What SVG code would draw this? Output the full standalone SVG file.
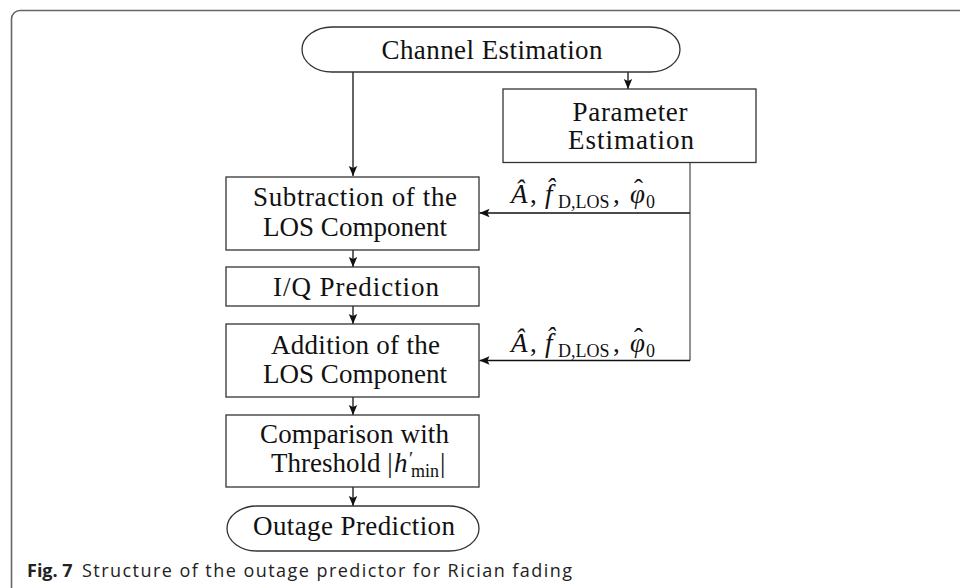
<svg xmlns="http://www.w3.org/2000/svg" width="960" height="588" viewBox="0 0 960 588">
  <defs>
    <marker id="arrow" viewBox="0 0 10 10" refX="10" refY="5" markerWidth="10" markerHeight="10" markerUnits="userSpaceOnUse" orient="auto">
      <path d="M0,0.8 L10,5 L0,9.2 L2,5 Z" fill="#111"/>
    </marker>
    <style>
      .box { fill: #fff; stroke: #333; stroke-width: 1.3; }
      .lbl { font-family: "Liberation Serif", "Times New Roman", serif; font-size: 27px; fill: #111; text-anchor: middle; }
      .math { font-family: "Liberation Serif", "Times New Roman", serif; font-size: 27px; fill: #111; }
      .it { font-style: italic; }
      .sub { font-size: 18px; }
      .edge { fill: none; stroke: #111; stroke-width: 1.3; marker-end: url(#arrow); }
      .feed { fill: none; stroke: #777; stroke-width: 1.6; }
      .cap { font-family: "Open Sans", "Noto Sans", sans-serif; font-size: 18px; fill: #222; }
    </style>
  </defs>

  <!-- figure frame -->
  <path d="M11.5,588 V19 A8.5,8.5 0 0 1 20,10.5 H960" fill="none" stroke="#666" stroke-width="1.6"/>

  <!-- connectors -->
  <g id="connectors">
    <path class="edge" d="M353,72 V176"/>
    <path class="edge" d="M628,72 V89"/>
    <path class="feed" d="M690,163 V360.5"/>
    <path class="edge" d="M690,213 H479.5"/>
    <path class="edge" d="M690,360.5 H479.5"/>
    <path class="edge" d="M353,250 V267"/>
    <path class="edge" d="M353,306 V324"/>
    <path class="edge" d="M353,397 V415"/>
    <path class="edge" d="M353,487 V506"/>
  </g>

  <g id="channel-estimation">
    <rect class="box" x="302" y="27" width="378" height="45" rx="30" ry="22.5"/>
    <text class="lbl" x="492" y="59" textLength="221" lengthAdjust="spacing">Channel Estimation</text>
  </g>

  <g id="parameter-estimation">
    <rect class="box" x="503" y="89" width="253" height="73.5"/>
    <text class="lbl" x="630" y="121" textLength="115" lengthAdjust="spacing">Parameter</text>
    <text class="lbl" x="631" y="149" textLength="126" lengthAdjust="spacing">Estimation</text>
  </g>

  <g id="subtraction">
    <rect class="box" x="226" y="177" width="253" height="73"/>
    <text class="lbl" x="355" y="206" textLength="204" lengthAdjust="spacing">Subtraction of the</text>
    <text class="lbl" x="355" y="236" textLength="184" lengthAdjust="spacing">LOS Component</text>
  </g>

  <g id="iq-prediction">
    <rect class="box" x="226" y="267" width="253" height="39"/>
    <text class="lbl" x="356" y="296" textLength="166" lengthAdjust="spacing">I/Q Prediction</text>
  </g>

  <g id="addition">
    <rect class="box" x="226" y="324" width="253" height="73"/>
    <text class="lbl" x="355.5" y="354" textLength="169" lengthAdjust="spacing">Addition of the</text>
    <text class="lbl" x="355" y="383" textLength="184" lengthAdjust="spacing">LOS Component</text>
  </g>

  <g id="comparison">
    <rect class="box" x="226" y="415" width="253" height="72"/>
    <text class="lbl" x="354.5" y="443" textLength="189" lengthAdjust="spacing">Comparison with</text>
    <text class="lbl" y="472" style="text-anchor:start"><tspan x="271">Threshold |</tspan><tspan class="it" x="394">h</tspan><tspan x="409" y="465" font-size="19">′</tspan><tspan class="sub" x="411" y="477">min</tspan><tspan x="440" y="472">|</tspan></text>
  </g>

  <g id="outage-prediction">
    <rect class="box" x="227" y="506" width="252" height="45" rx="30" ry="22.5"/>
    <text class="lbl" x="354" y="535" textLength="202" lengthAdjust="spacing">Outage Prediction</text>
  </g>

  <!-- estimated LOS parameters fed to both branches -->
  <g id="label-subtraction">
    <text class="math" y="203"><tspan class="it" x="511">Â</tspan><tspan x="530">,</tspan><tspan class="it" x="545">f̂</tspan><tspan class="sub" x="558" y="208">D,LOS</tspan><tspan x="613" y="203">,</tspan><tspan class="it" x="630">φ</tspan><tspan x="634" y="198">ˆ</tspan><tspan class="sub" x="646" y="208">0</tspan></text>
  </g>
  <g id="label-addition">
    <text class="math" y="352"><tspan class="it" x="511">Â</tspan><tspan x="530">,</tspan><tspan class="it" x="545">f̂</tspan><tspan class="sub" x="558" y="357">D,LOS</tspan><tspan x="613" y="352">,</tspan><tspan class="it" x="630">φ</tspan><tspan x="634" y="347">ˆ</tspan><tspan class="sub" x="646" y="357">0</tspan></text>
  </g>

  <!-- caption -->
  <text class="cap" y="577"><tspan x="27" font-weight="bold">Fig. 7</tspan><tspan x="82" textLength="490" lengthAdjust="spacing">Structure of the outage predictor for Rician fading</tspan></text>
</svg>
